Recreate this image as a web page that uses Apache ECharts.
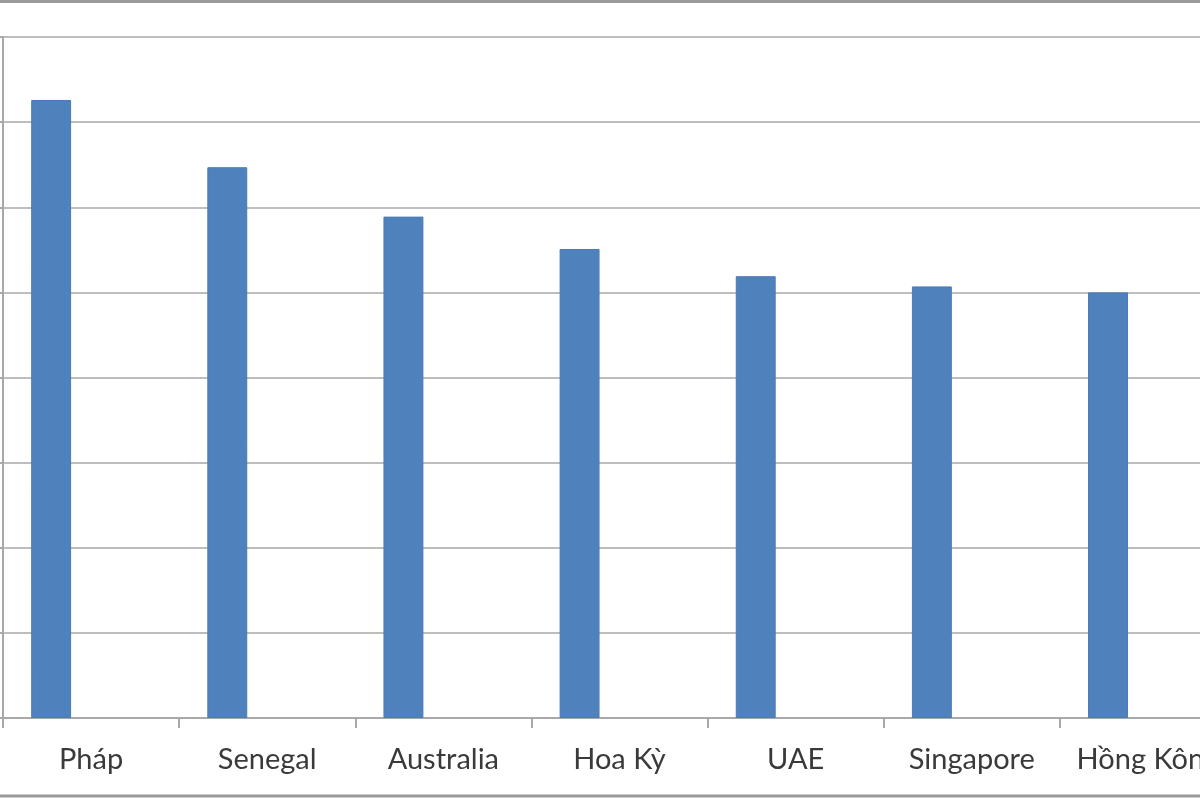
<!DOCTYPE html>
<html>
<head>
<meta charset="utf-8">
<script src="https://cdn.jsdelivr.net/npm/echarts@6/dist/echarts.min.js"></script>
<style>
  html, body { margin: 0; padding: 0; background: #fff; overflow: hidden; }
  /* the source chart runs past the right edge of the picture, so the canvas is wider than the window */
  #chart { width: 1240px; height: 798px; }
</style>
</head>
<body>
<div id="chart"></div>
<script>
// categories and values
const countries = ["Pháp", "Senegal", "Australia", "Hoa Kỳ", "UAE", "Singapore", "Hồng Kông"];
const series1 = [7.26, 6.47, 5.89, 5.51, 5.19, 5.07, 5.0];
// the original chart reserves room for two more (empty) series
const series2 = [];
const series3 = [];

const yMin = 0;
const yMax = 8;
const yStep = 1;

const chart = echarts.init(document.getElementById("chart"));

const gridColor = "#bdbdbd";
const axisColor = "#a8a8a8";

chart.setOption({
  animation: false,
  grid: { left: 3, top: 37, width: 1233, height: 681 },
  xAxis: {
    type: "category",
    data: countries,
    axisLine: { lineStyle: { color: axisColor, width: 2 } },
    axisTick: { show: true, length: 10, lineStyle: { color: axisColor, width: 2 } },
    axisLabel: {
      color: "#3a3a3a",
      fontFamily: "Lato, 'Open Sans', sans-serif",
      fontSize: 29,
      margin: 27,
      interval: 0,
    },
  },
  yAxis: {
    type: "value",
    min: yMin,
    max: yMax,
    interval: yStep,
    axisLabel: { show: false },
    axisLine: { show: true, lineStyle: { color: axisColor, width: 2 } },
    axisTick: { show: true, length: 4, lineStyle: { color: axisColor, width: 2 } },
    splitLine: { lineStyle: { color: gridColor, width: 2 } },
  },
  series: [
    {
      name: "S1",
      type: "bar",
      data: series1,
      barGap: "0%",
      barCategoryGap: "32%",
      itemStyle: { color: "#4f81bd", borderColor: "#4a7bb5", borderWidth: 1 },
    },
    { name: "S2", type: "bar", data: series2, itemStyle: { color: "#c0504d" } },
    { name: "S3", type: "bar", data: series3, itemStyle: { color: "#9bbb59" } },
  ],
  graphic: [
    {
      type: "line",
      shape: { x1: 0, y1: 1.5, x2: 1240, y2: 1.5 },
      style: { stroke: "#9a9a9a", lineWidth: 3 },
    },
    {
      type: "line",
      shape: { x1: 0, y1: 796, x2: 1240, y2: 796 },
      style: { stroke: "#9a9a9a", lineWidth: 3 },
    },
  ],
});
</script>
</body>
</html>
